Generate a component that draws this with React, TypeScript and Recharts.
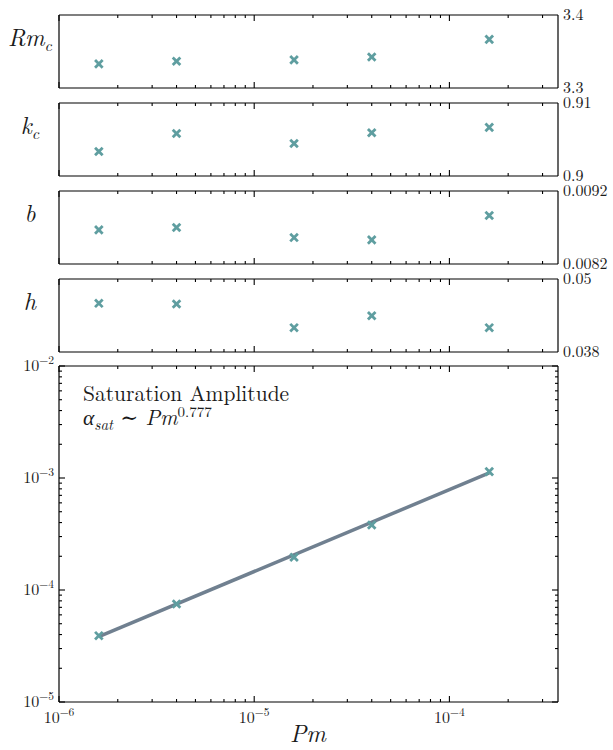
import React from 'react';
import { ComposedChart, Scatter, Line, XAxis, YAxis } from 'recharts';

// Pm sweep and the fitted threshold quantities
const pm = [1.6e-6, 4e-6, 1.6e-5, 4e-5, 1.6e-4];
const rmC = [3.333, 3.3367, 3.3385, 3.3425, 3.3666];
const kC = [0.90336, 0.90583, 0.90446, 0.90592, 0.90666];
const bVals = [0.008668, 0.0087, 0.008562, 0.00853, 0.008865];
const hVals = [0.046, 0.0459, 0.042, 0.04395, 0.042];
const alphaSat = [3.91e-5, 7.5e-5, 1.96e-4, 3.8e-4, 1.14e-3];
const alphaFit = [3.83e-5, null, null, null, 1.11e-3];

const xDomain = [1e-6, 3.6e-4];
const xTicks = [
  1e-6, 2e-6, 3e-6, 4e-6, 5e-6, 6e-6, 7e-6, 8e-6, 9e-6,
  1e-5, 2e-5, 3e-5, 4e-5, 5e-5, 6e-5, 7e-5, 8e-5, 9e-5,
  1e-4, 2e-4, 3e-4,
];
const yDomain = [1e-5, 1e-2];
const yTicks = [
  1e-5, 2e-5, 3e-5, 4e-5, 5e-5, 6e-5, 7e-5, 8e-5, 9e-5,
  1e-4, 2e-4, 3e-4, 4e-4, 5e-4, 6e-4, 7e-4, 8e-4, 9e-4,
  1e-3, 2e-3, 3e-3, 4e-3, 5e-3, 6e-3, 7e-3, 8e-3, 9e-3,
  1e-2,
];

const rmTicks = [3.3, 3.4];
const kTicks = [0.9, 0.91];
const bTicks = [0.0082, 0.0092];
const hTicks = [0.038, 0.05];

const rows = pm.map((p, i) => ({
  pm: p,
  rm: rmC[i],
  k: kC[i],
  b: bVals[i],
  h: hVals[i],
  alpha: alphaSat[i],
  fit: alphaFit[i],
}));

const FONT =
  '"Latin Modern Roman", "CMU Serif", "Liberation Serif", "DejaVu Serif", "Noto Serif", "Times New Roman", serif';
const INK = '#1a1a1a';
const MARK = '#5f9ea0';
const FIT = '#708090';

const panels = [
  { key: 'rm', name: 'Rm', sub: 'c', ticks: rmTicks, top: 15 },
  { key: 'k', name: 'k', sub: 'c', ticks: kTicks, top: 103 },
  { key: 'b', name: 'b', sub: '', ticks: bTicks, top: 191 },
  { key: 'h', name: 'h', sub: '', ticks: hTicks, top: 279 },
];
const PANEL_H = 73;
const BIG_TOP = 366;
const BIG_H = 336;
const BIG_PAD = 20;

const isMajor = (v: number) => {
  const l = Math.log10(v);
  return Math.abs(l - Math.round(l)) < 1e-6;
};

const Cross = (props: any) => {
  const { cx, cy } = props;
  if (cx == null || cy == null) return <g />;
  const s = 3.8;
  return (
    <g stroke={MARK} strokeWidth={2.8}>
      <line x1={cx - s} y1={cy - s} x2={cx + s} y2={cy + s} />
      <line x1={cx - s} y1={cy + s} x2={cx + s} y2={cy - s} />
    </g>
  );
};

const Pow10 = ({ x, y, v, anchor }: any) => (
  <text x={x} y={y} textAnchor={anchor} style={{ fontFamily: FONT }} fontSize={16} fill={INK}>
    10
    <tspan dy={-7} fontSize={11.5}>
      {'\u2212' + Math.abs(Math.round(Math.log10(v)))}
    </tspan>
  </text>
);

// x ticks pointing into the plot; dir = -1 for bottom axis, +1 for top axis
const xTick = (dir: number, labels: boolean) => (props: any) => {
  const { x, y, payload } = props;
  const major = isMajor(payload.value);
  return (
    <g>
      <line x1={x} x2={x} y1={y} y2={y + dir * (major ? 6 : 3)} stroke="#000" strokeWidth={1.1} />
      {labels && major && <Pow10 x={x} y={y + 21} v={payload.value} anchor="middle" />}
    </g>
  );
};

const yTick = (dir: number, labels: boolean) => (props: any) => {
  const { x, y, payload } = props;
  const major = isMajor(payload.value);
  return (
    <g>
      <line x1={x} x2={x + dir * (major ? 6 : 3)} y1={y} y2={y} stroke="#000" strokeWidth={1.1} />
      {labels && major && <Pow10 x={x - 5} y={y + 5} v={payload.value} anchor="end" />}
    </g>
  );
};

const rightLabel = (props: any) => {
  const { x, y, payload } = props;
  return (
    <text x={x + 5} y={y + 5} style={{ fontFamily: FONT }} fontSize={16} fill={INK}>
      {String(payload.value)}
    </text>
  );
};

const axisProps = {
  allowDataOverflow: true,
  interval: 0 as const,
  tickSize: 0,
  tickMargin: 0,
  tickLine: false,
  axisLine: { stroke: '#000', strokeWidth: 1.2 },
};

function SmallPanel({ p }: { p: (typeof panels)[number] }) {
  return (
    <div style={{ position: 'absolute', left: 0, top: p.top - 12 }}>
      <ComposedChart
        width={613}
        height={PANEL_H + 24}
        data={rows}
        margin={{ top: 11, bottom: 11, left: 58, right: 54 }}
      >
        <XAxis
          {...axisProps}
          xAxisId="b"
          dataKey="pm"
          type="number"
          scale="log"
          domain={xDomain}
          ticks={xTicks}
          height={1}
          tick={xTick(-1, false)}
        />
        <XAxis
          {...axisProps}
          xAxisId="t"
          orientation="top"
          dataKey="pm"
          type="number"
          scale="log"
          domain={xDomain}
          ticks={xTicks}
          height={1}
          tick={xTick(1, false)}
        />
        <YAxis
          {...axisProps}
          yAxisId="l"
          type="number"
          domain={[p.ticks[0], p.ticks[1]]}
          width={1}
          tick={false}
        />
        <YAxis
          {...axisProps}
          yAxisId="r"
          orientation="right"
          type="number"
          domain={[p.ticks[0], p.ticks[1]]}
          ticks={p.ticks}
          width={1}
          tick={rightLabel}
        />
        <Scatter xAxisId="b" yAxisId="l" dataKey={p.key} shape={Cross} isAnimationActive={false} />
      </ComposedChart>
    </div>
  );
}

function BigPanel() {
  return (
    <div style={{ position: 'absolute', left: 0, top: BIG_TOP - BIG_PAD }}>
      <ComposedChart
        width={613}
        height={BIG_H + BIG_PAD + 30}
        data={rows}
        margin={{ top: BIG_PAD - 1, bottom: 29, left: 58, right: 54 }}
      >
        <XAxis
          {...axisProps}
          xAxisId="b"
          dataKey="pm"
          type="number"
          scale="log"
          domain={xDomain}
          ticks={xTicks}
          height={1}
          tick={xTick(-1, true)}
        />
        <XAxis
          {...axisProps}
          xAxisId="t"
          orientation="top"
          dataKey="pm"
          type="number"
          scale="log"
          domain={xDomain}
          ticks={xTicks}
          height={1}
          tick={xTick(1, false)}
        />
        <YAxis
          {...axisProps}
          yAxisId="l"
          type="number"
          scale="log"
          domain={yDomain}
          ticks={yTicks}
          width={1}
          tick={yTick(1, true)}
        />
        <YAxis
          {...axisProps}
          yAxisId="r"
          orientation="right"
          type="number"
          scale="log"
          domain={yDomain}
          ticks={yTicks}
          width={1}
          tick={yTick(-1, false)}
        />
        <Line
          xAxisId="b"
          yAxisId="l"
          dataKey="fit"
          connectNulls
          dot={false}
          stroke={FIT}
          strokeWidth={3.5}
          isAnimationActive={false}
        />
        <Scatter xAxisId="b" yAxisId="l" dataKey="alpha" shape={Cross} isAnimationActive={false} />
      </ComposedChart>
    </div>
  );
}

export default function App() {
  return (
    <div
      style={{
        position: 'absolute',
        left: 0,
        top: 0,
        width: 613,
        height: 750,
        background: '#fff',
      }}
    >
      {panels.map((p) => (
        <SmallPanel key={p.key} p={p} />
      ))}
      <BigPanel />
      <svg
        width={613}
        height={750}
        style={{ position: 'absolute', left: 0, top: 0, pointerEvents: 'none' }}
      >
        {panels.map((p) => (
          <text
            key={p.key}
            x={30}
            y={p.top + PANEL_H / 2 - 6}
            textAnchor="middle"
            style={{ fontFamily: FONT }}
            fontSize={24}
            fontStyle="italic"
            fill={INK}
          >
            {p.name}
            {p.sub && (
              <tspan fontSize={16} dy={5}>
                {p.sub}
              </tspan>
            )}
          </text>
        ))}
        <text x={83} y={401} style={{ fontFamily: FONT }} fontSize={21.5} fill={INK}>
          Saturation Amplitude
        </text>
        <text x={83} y={425} style={{ fontFamily: FONT }} fontSize={21.5} fill={INK}>
          <tspan fontStyle="italic">α</tspan>
          <tspan fontStyle="italic" fontSize={15} dy={5}>
            sat
          </tspan>
          <tspan dy={-5}> ∼ </tspan>
          <tspan fontStyle="italic">Pm</tspan>
          <tspan fontSize={15} dy={-8}>
            0.777
          </tspan>
        </text>
        <text
          x={308}
          y={742}
          textAnchor="middle"
          style={{ fontFamily: FONT }}
          fontSize={24}
          fontStyle="italic"
          fill={INK}
        >
          Pm
        </text>
      </svg>
    </div>
  );
}
